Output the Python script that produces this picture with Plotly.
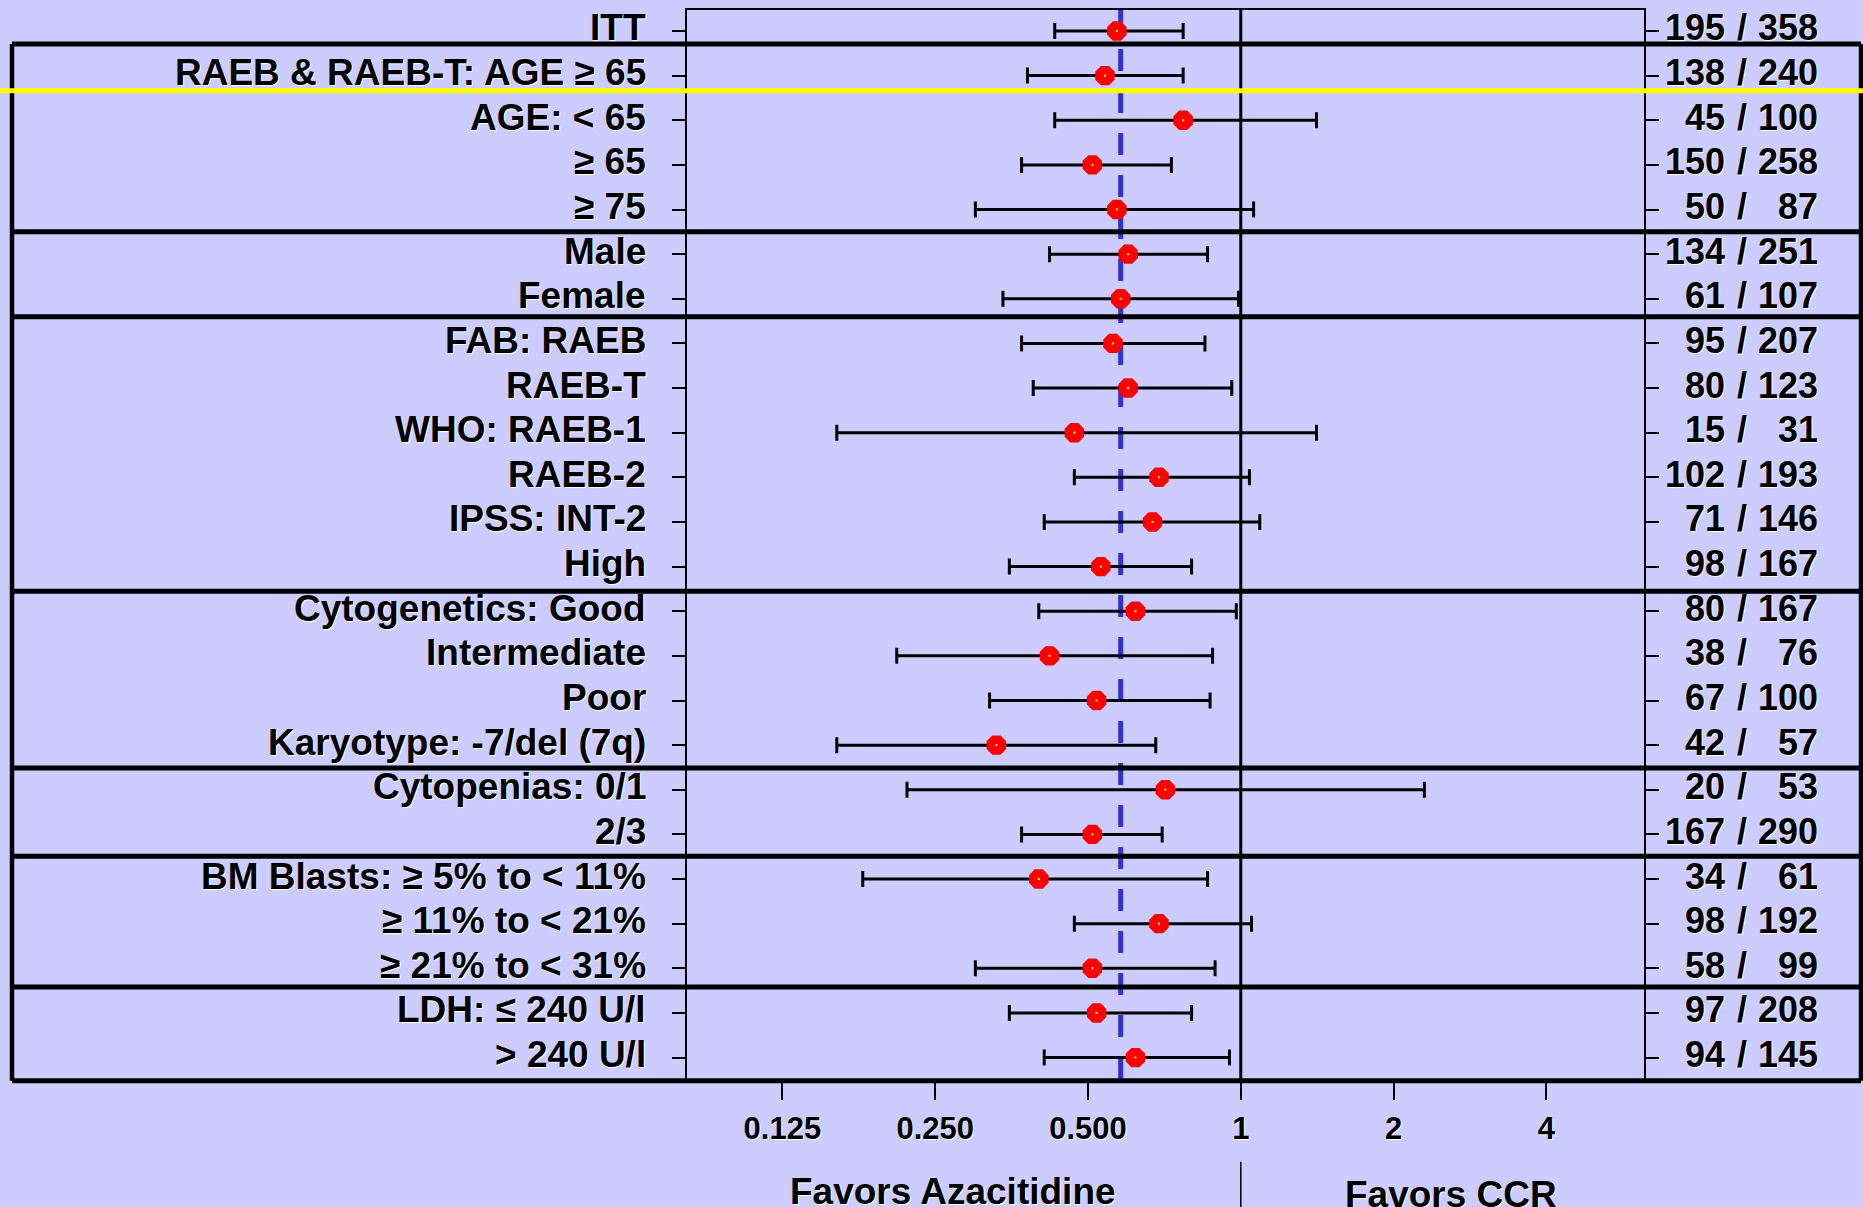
import plotly.graph_objects as go

# Subgroup labels (top to bottom)
labels = [
    "ITT",
    "RAEB & RAEB-T: AGE ≥ 65",
    "AGE: < 65",
    "≥ 65",
    "≥ 75",
    "Male",
    "Female",
    "FAB: RAEB",
    "RAEB-T",
    "WHO: RAEB-1",
    "RAEB-2",
    "IPSS: INT-2",
    "High",
    "Cytogenetics: Good",
    "Intermediate",
    "Poor",
    "Karyotype: -7/del (7q)",
    "Cytopenias: 0/1",
    "2/3",
    "BM Blasts: ≥ 5% to < 11%",
    "≥ 11% to < 21%",
    "≥ 21% to < 31%",
    "LDH: ≤ 240 U/l",
    "> 240 U/l",
]

# Hazard ratios with 95% confidence limits
hazard_ratio = [0.57, 0.54, 0.77, 0.51, 0.57, 0.60, 0.58, 0.56, 0.60, 0.47, 0.69, 0.67,
                0.53, 0.62, 0.42, 0.52, 0.33, 0.71, 0.51, 0.40, 0.69, 0.51, 0.52, 0.62]
ci_lower = [0.43, 0.38, 0.43, 0.37, 0.30, 0.42, 0.34, 0.37, 0.39, 0.16, 0.47, 0.41,
            0.35, 0.40, 0.21, 0.32, 0.16, 0.22, 0.37, 0.18, 0.47, 0.30, 0.35, 0.41]
ci_upper = [0.77, 0.77, 1.41, 0.73, 1.06, 0.86, 0.99, 0.85, 0.96, 1.41, 1.04, 1.09,
            0.80, 0.98, 0.88, 0.87, 0.68, 2.30, 0.70, 0.86, 1.05, 0.89, 0.80, 0.95]

# Events / patients
events = [195, 138, 45, 150, 50, 134, 61, 95, 80, 15, 102, 71, 98, 80, 38, 67, 42, 20, 167, 34, 98, 58, 97, 94]
patients = [358, 240, 100, 258, 87, 251, 107, 207, 123, 31, 193, 146, 167, 167, 76, 100, 57, 53, 290, 61, 192, 99, 208, 145]

# Overall hazard ratio reference
overall_hr = 0.58

# Axis ticks
tick_values = [0.125, 0.25, 0.5, 1, 2, 4]
tick_text = ["0.125", "0.250", "0.500", "1", "2", "4"]

BG = "#ccccff"
FONT = "Liberation Sans, Arial, sans-serif"
SHADOW = "1px 1px 1px #ffffff"

rows = list(range(len(labels)))
err_plus = [u - h for u, h in zip(ci_upper, hazard_ratio)]
err_minus = [h - l for h, l in zip(hazard_ratio, ci_lower)]

fig = go.Figure()

fig.add_trace(go.Scatter(
    x=hazard_ratio, y=rows, mode="markers",
    marker=dict(symbol="octagon", size=21, color="#ff0000", line=dict(width=0)),
    error_x=dict(type="data", symmetric=False, array=err_plus, arrayminus=err_minus,
                 color="black", thickness=3, width=8),
    hoverinfo="skip", showlegend=False,
))
fig.add_trace(go.Scatter(
    x=hazard_ratio, y=rows, mode="markers",
    marker=dict(symbol="square", size=2, color="#ffff00", line=dict(width=0)),
    hoverinfo="skip", showlegend=False,
))

W, H = 1863, 1207
ML, MR, MT, MB = 687, 219, 8, 128
PW = W - ML - MR
PH = H - MT - MB
Y_RANGE = [23.48, -0.47]


def px_x(p):
    return (p - ML) / PW


def px_y(p):
    return (H - MB - p) / PH


def row_to_paper(r):
    return (Y_RANGE[0] - r) / (Y_RANGE[0] - Y_RANGE[1])


shapes = []
# reference lines
shapes.append(dict(type="line", xref="x", yref="paper", x0=overall_hr, x1=overall_hr, y0=0, y1=1,
                   line=dict(color="#3333cc", width=5, dash="22px,20px"), layer="below"))
shapes.append(dict(type="line", xref="x", yref="paper", x0=1, x1=1, y0=0, y1=1,
                   line=dict(color="black", width=3), layer="below"))
shapes.append(dict(type="line", xref="x", yref="paper", x0=1, x1=1, y0=px_y(1162), y1=px_y(1210),
                   line=dict(color="black", width=1.5)))

# group frame
box_left, box_right = px_x(12), px_x(1861)
group_lines = [0.29, 4.50, 6.40, 12.55, 16.51, 18.49, 21.42, 23.52]
for gy in group_lines:
    yp = row_to_paper(gy)
    shapes.append(dict(type="line", xref="paper", yref="paper", x0=box_left, x1=box_right, y0=yp, y1=yp,
                       line=dict(color="black", width=5)))
for bx in (box_left, box_right):
    shapes.append(dict(type="line", xref="paper", yref="paper", x0=bx, x1=bx,
                       y0=row_to_paper(group_lines[0]), y1=row_to_paper(group_lines[-1]),
                       line=dict(color="black", width=4.5)))

# highlight stroke
yl = row_to_paper(1.34)
shapes.append(dict(type="line", xref="paper", yref="paper", x0=px_x(0), x1=px_x(W), y0=yl, y1=yl,
                   line=dict(color="#ffff00", width=5)))

annotations = []
label_font = dict(family=FONT, size=37, color="black", weight="bold", shadow=SHADOW)
num_font = dict(family=FONT, size=36, color="black", weight="bold", shadow=SHADOW)
for i, lab in enumerate(labels):
    annotations.append(dict(x=0, y=i, xref="paper", yref="y", text=lab, showarrow=False,
                            xanchor="right", yanchor="middle", xshift=-39, yshift=3, font=label_font))
    annotations.append(dict(x=1, y=i, xref="paper", yref="y", text=str(events[i]), showarrow=False,
                            xanchor="right", yanchor="middle", xshift=83, yshift=3, font=num_font))
    annotations.append(dict(x=1, y=i, xref="paper", yref="y", text="/", showarrow=False,
                            xanchor="center", yanchor="middle", xshift=98, yshift=3, font=num_font))
    annotations.append(dict(x=1, y=i, xref="paper", yref="y", text=str(patients[i]), showarrow=False,
                            xanchor="right", yanchor="middle", xshift=176, yshift=3, font=num_font))

annotations.append(dict(x=px_x(953), y=px_y(1192), xref="paper", yref="paper", text="Favors Azacitidine",
                        showarrow=False, xanchor="center", yanchor="middle", font=label_font))
annotations.append(dict(x=px_x(1451), y=px_y(1195), xref="paper", yref="paper", text="Favors CCR",
                        showarrow=False, xanchor="center", yanchor="middle", font=label_font))

fig.update_layout(
    width=W, height=H,
    margin=dict(l=ML, r=MR, t=MT, b=MB, pad=0),
    paper_bgcolor=BG, plot_bgcolor=BG,
    shapes=shapes, annotations=annotations,
    showlegend=False,
    xaxis=dict(type="log", range=[-1.091, 0.7944], tickvals=tick_values, ticktext=tick_text,
               ticks="outside", ticklen=19, tickwidth=2, tickcolor="black",
               showline=True, linecolor="black", linewidth=2, mirror=True,
               showgrid=False, zeroline=False, ticklabelstandoff=2,
               tickfont=dict(family=FONT, size=31, color="black", weight="bold", shadow=SHADOW)),
    yaxis=dict(range=Y_RANGE, tickvals=rows, showticklabels=False,
               ticks="outside", ticklen=13, tickwidth=2, tickcolor="black",
               showline=True, linecolor="black", linewidth=2, mirror="ticks",
               showgrid=False, zeroline=False),
)

fig.write_html("out.html")
